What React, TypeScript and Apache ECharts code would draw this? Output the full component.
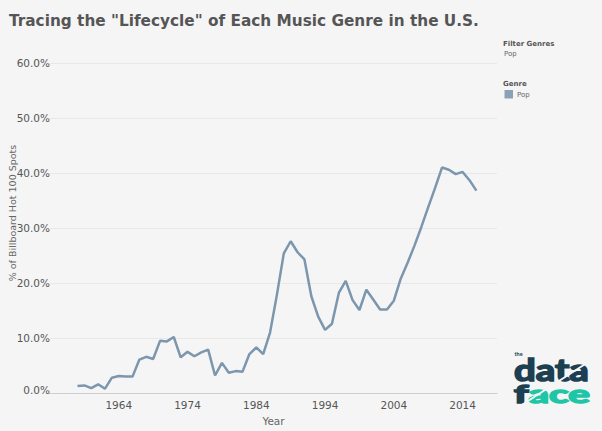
import React, { useRef, useEffect } from 'react';
import * as echarts from 'echarts';

// Pop share of Billboard Hot 100 spots, by year
const years = [
  1958, 1959, 1960, 1961, 1962, 1963, 1964, 1965, 1966, 1967,
  1968, 1969, 1970, 1971, 1972, 1973, 1974, 1975, 1976, 1977,
  1978, 1979, 1980, 1981, 1982, 1983, 1984, 1985, 1986, 1987,
  1988, 1989, 1990, 1991, 1992, 1993, 1994, 1995, 1996, 1997,
  1998, 1999, 2000, 2001, 2002, 2003, 2004, 2005, 2006, 2007,
  2008, 2009, 2010, 2011, 2012, 2013, 2014, 2015, 2016
];
const popShare = [
  1.3, 1.4, 0.9, 1.6, 0.8, 2.8, 3.1, 3.0, 3.0, 6.1,
  6.6, 6.2, 9.5, 9.4, 10.2, 6.5, 7.5, 6.7, 7.4, 7.9,
  3.2, 5.5, 3.7, 4.0, 3.9, 7.1, 8.3, 7.1, 11.0, 17.9,
  25.4, 27.6, 25.6, 24.3, 17.6, 13.9, 11.5, 12.6, 18.2, 20.4,
  16.9, 15.1, 18.8, 17.0, 15.2, 15.2, 16.8, 20.8, 23.7, 26.8,
  30.2, 33.8, 37.3, 41.0, 40.6, 39.8, 40.2, 38.7, 36.8
];
const xTickYears = [1964, 1974, 1984, 1994, 2004, 2014];
const yTicks = [0, 10, 20, 30, 40, 50, 60];

const LINE = '#7b96ad';
const GREY = '#555555';
const FONT = 'DejaVu Sans';
const NAVY = '#1d3f52';
const TEAL = '#1fc6a6';

const App: React.FC = () => {
  const chartRef = useRef<HTMLDivElement>(null);

  useEffect(() => {
    if (!chartRef.current) return;
    const myChart = echarts.init(chartRef.current, null, { renderer: 'svg' });

    const option = {
      animation: false,
      backgroundColor: '#f5f5f5',
      title: {
        text: 'Tracing the "Lifecycle" of Each Music Genre in the U.S.',
        left: 4,
        top: 8,
        textStyle: { fontFamily: FONT, fontSize: 15.3, fontWeight: 'bold', color: GREY }
      },
      grid: { left: 50, right: 105, top: 63, bottom: 33 },
      xAxis: {
        type: 'value',
        min: 1954,
        max: 2019,
        interval: 10,
        name: 'Year',
        nameLocation: 'middle',
        nameGap: 17,
        nameTextStyle: { fontFamily: FONT, fontSize: 10.5, color: '#666' },
        axisLine: { show: true, lineStyle: { color: '#c8c8c8', type: 'dotted', width: 1 } },
        axisTick: { show: false },
        splitLine: { show: false },
        axisLabel: {
          margin: 6,
          fontFamily: FONT,
          fontSize: 10.5,
          color: GREY,
          showMinLabel: true,
          showMaxLabel: true,
          formatter: (v: number) => (xTickYears.includes(v) ? String(v) : '')
        }
      },
      yAxis: {
        type: 'value',
        min: yTicks[0],
        max: yTicks[yTicks.length - 1],
        interval: 10,
        axisLine: { show: false },
        axisTick: { show: false },
        splitLine: { show: true, lineStyle: { color: '#e8e8e8', width: 1 } },
        axisLabel: {
          margin: 0,
          fontFamily: FONT,
          fontSize: 10.5,
          color: GREY,
          formatter: (v: number) => (v === 0 ? '{z|0.0%}' : v.toFixed(1) + '%'),
          rich: {
            z: { fontFamily: FONT, fontSize: 10.5, color: GREY, padding: [0, 0, 6, 0] }
          }
        }
      },
      series: [
        {
          name: 'Pop',
          type: 'line',
          data: years.map((y, i) => [y, popShare[i]]),
          symbol: 'none',
          lineStyle: { color: LINE, width: 2.5 },
          itemStyle: { color: LINE }
        }
      ],
      graphic: [
        {
          type: 'text',
          x: 12,
          y: 213,
          rotation: Math.PI / 2,
          style: {
            text: '% of Billboard Hot 100 Spots',
            fontFamily: FONT,
            fontSize: 9.5,
            fill: '#666',
            align: 'center',
            verticalAlign: 'middle'
          }
        },
        {
          type: 'text',
          x: 503,
          y: 44,
          style: { text: 'Filter Genres', fontFamily: FONT, fontSize: 7, fontWeight: 'bold', fill: GREY, verticalAlign: 'middle' }
        },
        {
          type: 'text',
          x: 504,
          y: 53.5,
          style: { text: 'Pop', fontFamily: FONT, fontSize: 7, fill: '#666', verticalAlign: 'middle' }
        },
        {
          type: 'text',
          x: 503,
          y: 84,
          style: { text: 'Genre', fontFamily: FONT, fontSize: 7, fontWeight: 'bold', fill: GREY, verticalAlign: 'middle' }
        },
        {
          type: 'rect',
          shape: { x: 504.5, y: 90, width: 8.5, height: 8.5 },
          style: { fill: '#8aa2b8' }
        },
        {
          type: 'text',
          x: 517,
          y: 94.5,
          style: { text: 'Pop', fontFamily: FONT, fontSize: 7, fill: '#666', verticalAlign: 'middle' }
        },
        // the data face logo
        {
          type: 'text',
          x: 514.5,
          y: 353.5,
          style: { text: 'the', fontFamily: 'Lato', fontSize: 5.5, fontWeight: 'bold', fill: NAVY, verticalAlign: 'middle' }
        },
        {
          type: 'text',
          x: 514,
          y: 353.3,
          scaleX: 1.25,
          style: {
            text: 'data',
            fontFamily: 'Lato',
            fontSize: 30.7,
            fontWeight: 'bold',
            fill: NAVY,
            stroke: NAVY,
            lineWidth: 1.6,
            verticalAlign: 'top'
          }
        },
        {
          type: 'text',
          x: 514,
          y: 381,
          scaleX: 1.62,
          style: {
            text: '{d|f}{t|ace}',
            fontFamily: 'Lato',
            fontSize: 25,
            fontWeight: 'bold',
            verticalAlign: 'top',
            rich: {
              d: { fontFamily: 'Lato', fontSize: 25, fontWeight: 'bold', fill: NAVY, stroke: NAVY, lineWidth: 1.6 },
              t: { fontFamily: 'Lato', fontSize: 25, fontWeight: 'bold', fill: TEAL, stroke: TEAL, lineWidth: 1.6 }
            }
          }
        },
        {
          type: 'line',
          shape: { x1: 514, y1: 410, x2: 593, y2: 359 },
          style: { stroke: '#f5f5f5', lineWidth: 2 }
        }
      ]
    };

    myChart.setOption(option);

    return () => {
      myChart.dispose();
    };
  }, []);

  return (
    <div
      ref={chartRef}
      style={{ position: 'fixed', left: 0, top: 0, width: '602px', height: '431px' }}
    />
  );
};

export default App;
